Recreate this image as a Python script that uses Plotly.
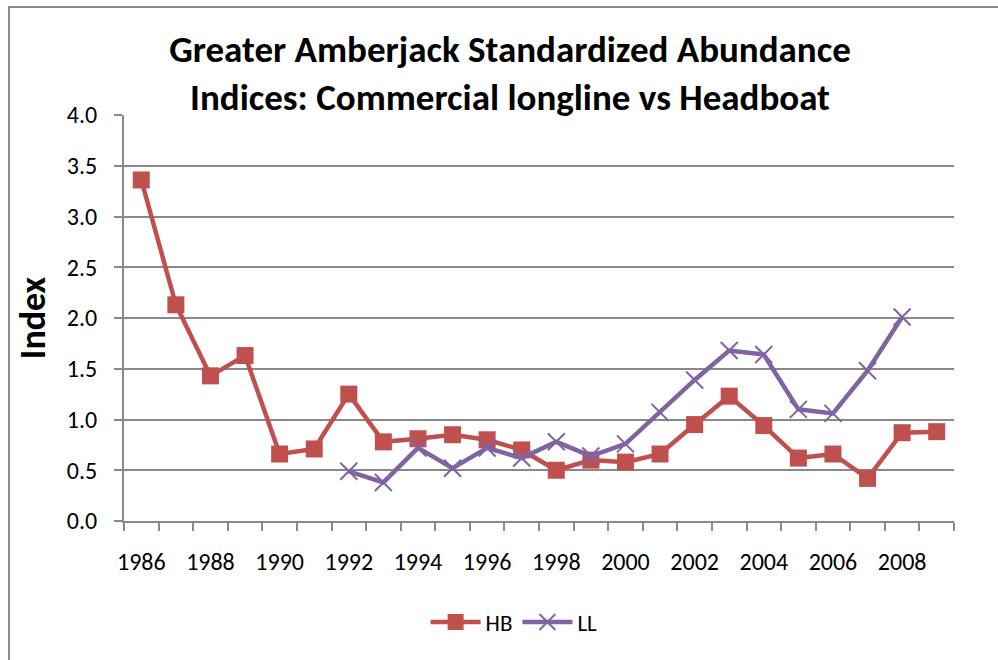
import plotly.graph_objects as go

years = list(range(1986, 2010))
hb_values = [3.36, 2.13, 1.43, 1.63, 0.66, 0.71, 1.25, 0.78, 0.81, 0.85, 0.80, 0.70,
             0.50, 0.60, 0.58, 0.66, 0.95, 1.23, 0.94, 0.62, 0.66, 0.42, 0.87, 0.88]
ll_years = list(range(1992, 2009))
ll_values = [0.49, 0.38, 0.72, 0.52, 0.72, 0.62, 0.78, 0.64, 0.76, 1.07, 1.39,
             1.68, 1.64, 1.10, 1.06, 1.48, 2.01]
y_ticks = [0.0, 0.5, 1.0, 1.5, 2.0, 2.5, 3.0, 3.5, 4.0]
title_text = "Greater Amberjack Standardized Abundance<br>Indices: Commercial longline vs Headboat"

HB_COLOR = "#C0504D"
LL_COLOR = "#8064A2"
GRID = "#898989"
FONT = "Carlito, Lato, 'Open Sans', sans-serif"

fig = go.Figure()
fig.add_trace(go.Scatter(
    x=years, y=hb_values, name="HB", mode="lines+markers",
    line=dict(color=HB_COLOR, width=4.5),
    marker=dict(symbol="square", size=17, color=HB_COLOR),
))
fig.add_trace(go.Scatter(
    x=ll_years, y=ll_values, name="LL", mode="lines+markers",
    line=dict(color=LL_COLOR, width=4.5),
    marker=dict(symbol="x-thin", size=17, color=LL_COLOR,
                line=dict(color=LL_COLOR, width=2)),
))

fig.update_layout(
    width=998, height=660,
    paper_bgcolor="white", plot_bgcolor="white",
    margin=dict(l=124, r=44, t=115, b=139),
    font=dict(family=FONT, color="black", size=24),
    title=dict(text=title_text, x=510 / 998, xanchor="center",
               y=1 - 62 / 660, yanchor="top",
               font=dict(family=FONT, size=37, color="black", weight="bold")),
    showlegend=True,
    legend=dict(orientation="h", x=0.47, xanchor="center", y=-0.249, yanchor="middle",
                font=dict(size=23), itemwidth=50, bgcolor="rgba(0,0,0,0)"),
    shapes=[dict(type="rect", xref="paper", yref="paper",
                 x0=(9 - 124) / 830, x1=(1010 - 124) / 830,
                 y0=(521 - 700) / 406, y1=(521 - 7) / 406,
                 line=dict(color="#8c8c8c", width=2), fillcolor="rgba(0,0,0,0)", layer="below")],
)

fig.update_xaxes(
    range=[years[0] - 0.5, years[-1] + 0.5],
    tickmode="linear", tick0=years[0], dtick=2,
    ticks="", showgrid=False,
    showline=True, linecolor=GRID, linewidth=2,
    tickfont=dict(size=24), ticklabelstandoff=18,
    minor=dict(tickmode="linear", tick0=years[0] - 0.5, dtick=1,
               ticks="outside", ticklen=8, tickcolor=GRID, tickwidth=2, showgrid=False),
    zeroline=False,
)
fig.update_yaxes(
    range=[0, 4.0], tickvals=y_ticks, tickformat=".1f",
    ticks="outside", ticklen=8, tickcolor=GRID, tickwidth=2,
    showgrid=True, gridcolor=GRID, gridwidth=2,
    showline=True, linecolor=GRID, linewidth=2,
    zeroline=False, tickfont=dict(size=24), ticklabelstandoff=12,
    title=dict(text="Index", font=dict(size=36, weight="bold"), standoff=10),
)

fig.write_html("out.html", config={"displayModeBar": False},
               post_script="document.body.style.margin='0';")
